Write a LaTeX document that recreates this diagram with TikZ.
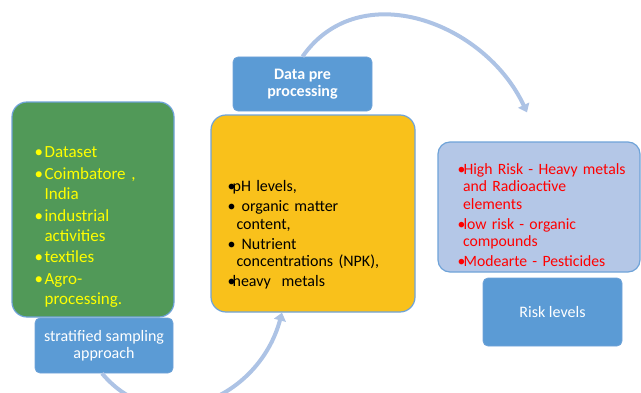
\documentclass[tikz,border=0pt]{standalone}
\usepackage{fontspec}
\setmainfont{Carlito}
\usetikzlibrary{positioning,arrows.meta}

\definecolor{boxgreen}{HTML}{519958}
\definecolor{boxgold}{HTML}{F9C11B}
\definecolor{boxpale}{HTML}{B4C7E7}
\definecolor{boxblue}{HTML}{5B9BD5}
\definecolor{edgeblue}{HTML}{6FA3D8}
\definecolor{arcblue}{HTML}{ADC3E5}
\definecolor{listyellow}{HTML}{FFFF00}
\definecolor{listred}{HTML}{FF0000}

% bullet item: bullet box width, hanging indent, text
\newcommand{\bitem}[3]{\par\noindent\hangindent=#2\hangafter=1\makebox[#1][l]{\textbullet}#3}

\begin{document}
\begin{tikzpicture}[x=1pt,y=1pt,
        panel/.style={
          draw=edgeblue,
          line width=1.2pt,
          rounded corners=15pt,
          inner sep=0pt
        },
        tag/.style={
          fill=boxblue,
          draw=edgeblue,
          line width=0.8pt,
          rounded corners=5pt,
          text=white,
          align=center,
          inner sep=0pt,
          font=\fontsize{16}{17.5}\selectfont
        },
        list/.style={
          inner sep=0pt,
          anchor=north west,
          align=left,
          text width=#1
        },
        loop/.style={
          draw=arcblue,
          line width=4pt,
          -{Triangle[width=12pt,length=8pt]}
        }
        ]
        \useasboundingbox (0,0) rectangle (641,392);

        \node[panel,fill=boxgreen,minimum width=162pt,minimum height=215pt] 
          (green) at (93,182.5) {};
        \node[panel,fill=boxgold,minimum width=204pt,minimum height=197pt] 
          (gold) at (313,178.5) {};
        \node[panel,fill=boxpale,rounded corners=12pt,minimum width=202pt,minimum height=130pt] 
          (pale) at (539,185) {};

        \node[tag,below=0pt of green,xshift=11pt,minimum width=138pt,minimum height=55pt] 
          (strat) {stratified sampling\\approach};
        \node[tag,above=3pt of gold,xshift=-10.5pt,minimum width=139pt,minimum height=54pt,font=\fontsize{16}{17.5}\selectfont\bfseries] 
          (prep) {Data pre\\processing};
        \node[tag,below=5pt of pale,xshift=13.5pt,minimum width=139pt,minimum height=68pt] 
          (risk) {Risk levels};

        \node[list=130pt,text=listyellow,font=\fontsize{17}{20}\selectfont] 
          (glist) at ([shift={(23,-34)}]green.north west) {\setlength{\parskip}{1.8pt}%
          \bitem{10pt}{10pt}{Dataset}%
          \bitem{10pt}{10pt}{Coimbatore ,\newline India}%
          \bitem{10pt}{10pt}{industrial\newline activities}%
          \bitem{10pt}{10pt}{textiles}%
          \bitem{10pt}{10pt}{Agro-\newline processing.}\par};
        \node[list=180pt,font=\fontsize{16}{17.5}\selectfont] 
          (ylist) at ([shift={(17,-57)}]gold.north west) {\setlength{\parskip}{2.5pt}%
          \bitem{5pt}{9pt}{pH levels,}%
          \bitem{14pt}{9pt}{organic matter\newline content,}%
          \bitem{14pt}{9pt}{Nutrient\newline concentrations (NPK),}%
          \bitem{5pt}{9pt}{heavy\ \ metals}\par};
        \node[list=178pt,text=listred,font=\fontsize{15.7}{17.5}\selectfont] 
          (rlist) at ([shift={(20,-13)}]pale.north west) {\setlength{\parskip}{2.3pt}%
          \bitem{6pt}{5.5pt}{High Risk - Heavy metals\newline and Radioactive\newline elements}%
          \bitem{6pt}{5.5pt}{low risk - organic\newline compounds}%
          \bitem{6pt}{5.5pt}{Modearte - Pesticides}\par};

        \coordinate (topend) at ([xshift=-12pt,yshift=29pt]pale.north);
        \coordinate (botend) at ([xshift=-31pt]gold.south);
        \draw[loop] (prep.north) to[out=55,in=115,looseness=1.1] (topend);
        \draw[loop] ([xshift=-2pt]strat.south) to[out=-50,in=-105,looseness=1.2] (botend);
    \end{tikzpicture}
\end{document}
